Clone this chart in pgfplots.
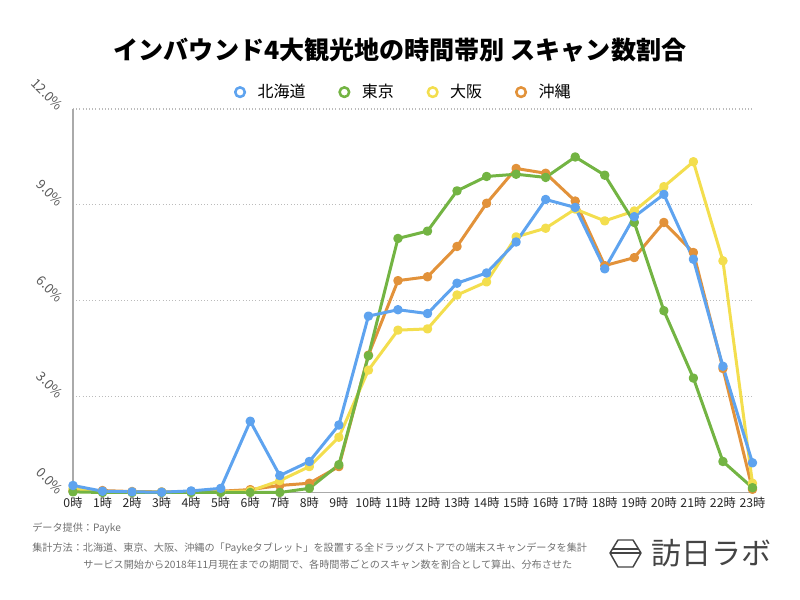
\documentclass[border=0pt]{standalone}
\usepackage{pgfplots}
\pgfplotsset{compat=1.18}
\usepackage{fontspec}
\setmainfont{Noto Sans CJK JP}
\definecolor{cblue}{HTML}{5EA3EF}
\definecolor{cgreen}{HTML}{73B443}
\definecolor{cyellow}{HTML}{F3DE4E}
\definecolor{corange}{HTML}{E2923A}
\definecolor{axisgray}{HTML}{AAAAAA}
\definecolor{gridgray}{HTML}{BBBBBB}
\definecolor{notegray}{HTML}{707070}
\definecolor{logogray}{HTML}{444444}
\pgfplotstableread{
h blue green yellow orange
0 0.22 0.02 0.12 0.05
1 0.04 0.00 0.02 0.06
2 0.02 0.00 0.01 0.03
3 0.01 0.00 0.01 0.02
4 0.05 0.00 0.02 0.03
5 0.13 0.00 0.02 0.04
6 2.23 0.00 0.05 0.09
7 0.53 0.00 0.37 0.22
8 0.97 0.13 0.81 0.29
9 2.11 0.87 1.73 0.81
10 5.52 4.28 3.83 4.30
11 5.72 7.95 5.08 6.63
12 5.60 8.18 5.12 6.75
13 6.55 9.44 6.18 7.70
14 6.87 9.89 6.59 9.05
15 7.84 9.96 8.00 10.14
16 9.17 9.86 8.27 9.99
17 8.92 10.50 8.87 9.12
18 7.00 9.93 8.50 7.10
19 8.63 8.45 8.81 7.35
20 9.33 5.69 9.57 8.45
21 7.30 3.58 10.35 7.51
22 3.95 0.97 7.25 3.88
23 0.93 0.15 0.29 0.10
}\datatable
\begin{document}
\begin{tikzpicture}
\begin{scope}[x=0.75pt,y=0.75pt]
\path[use as bounding box] (0,0) rectangle (800,600);
\node[font=\fontsize{18.8}{22}\selectfont\bfseries] at (400,550) {インバウンド4大観光地の時間帯別 スキャン数割合};
\begin{scope}[font=\fontsize{7.6}{9}\selectfont, text=notegray]
\node[anchor=west, inner sep=0] at (32,72) {データ提供：Payke};
\node[anchor=west, inner sep=0] at (32,52) {集計方法：北海道、東京、大阪、沖縄の「Paykeタブレット」を設置する全ドラッグストアでの端末スキャンデータを集計};
\node[anchor=west, inner sep=0] at (83,35) {サービス開始から2018年11月現在までの期間で、各時間帯ごとのスキャン数を割合として算出、分布させた};
\end{scope}
\draw[logogray, line width=1.1pt, line join=round] (618,60) -- (633,60) -- (641,47) -- (633,33) -- (618,33) -- (610,47) -- cycle;
\draw[logogray, line width=1.1pt] (612.5,51) -- (638.5,51) (610,47) -- (641,47);
\node[anchor=west, inner sep=0, text=logogray, font=\fontsize{22.5}{26}\selectfont] at (651,47) {訪日ラボ};
\end{scope}
\begin{axis}[
  at={(54.75pt,80.625pt)}, anchor=south west,
  scale only axis, width=509.6pt, height=287.6pt,
  xmin=0, xmax=23, ymin=0, ymax=12,
  clip=false,
  axis x line*=bottom, axis y line*=left,
  axis line style={axisgray, line width=1.1pt, -},
  major tick length=0pt,
  xtick={0,...,23},
  xticklabels={0時,1時,2時,3時,4時,5時,6時,7時,8時,9時,10時,11時,12時,13時,14時,15時,16時,17時,18時,19時,20時,21時,22時,23時},
  xticklabel style={font=\fontsize{9.2}{11}\selectfont, text=black!85},
  ytick={0,3,6,9,12},
  yticklabels={0.0\%,3.0\%,6.0\%,9.0\%,12.0\%},
  yticklabel style={font=\fontsize{10}{12}\selectfont, text=black!65, xshift=-6.4pt, yshift=-1.8pt, rotate=-45, anchor=east},
  ymajorgrids,
  grid style={dotted, gridgray, line width=0.8pt},
  every axis plot/.append style={line width=2.25pt, line join=round, mark=*, mark size=2.4pt},
  reverse legend,
  legend columns=4,
  legend style={at={(rel axis cs:0.485,1.044)}, anchor=center, draw=none, fill=none,
    font=\fontsize{12}{14}\selectfont,
    /tikz/every even column/.append style={column sep=21pt}},
  legend image code/.code={\draw[#1, line width=1.9pt, fill=white] (0pt,0pt) circle (3.6pt); \path (-5pt,0) (10pt,0);},
]
\addplot[corange] table[x=h, y=orange] {\datatable};
\addlegendentry{沖縄}
\addplot[cyellow] table[x=h, y=yellow] {\datatable};
\addlegendentry{大阪}
\addplot[cgreen] table[x=h, y=green] {\datatable};
\addlegendentry{東京}
\addplot[cblue] table[x=h, y=blue] {\datatable};
\addlegendentry{北海道}
\end{axis}
\end{tikzpicture}
\end{document}
